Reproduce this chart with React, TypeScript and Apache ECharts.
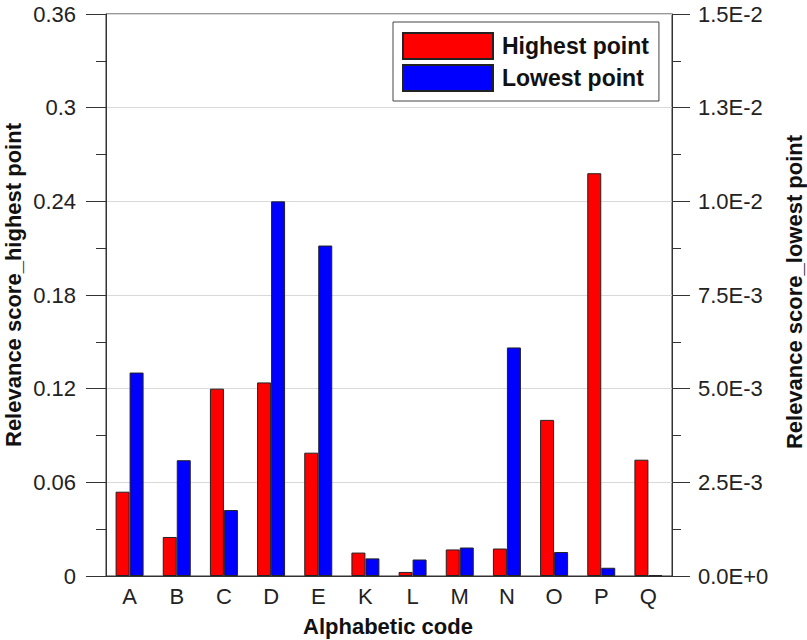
import React, { useEffect, useRef } from "react";
import * as echarts from "echarts";

const categories = ["A", "B", "C", "D", "E", "K", "L", "M", "N", "O", "P", "Q"];
const highestPoint = [0.054, 0.025, 0.12, 0.124, 0.079, 0.015, 0.0026, 0.017, 0.0176, 0.1, 0.258, 0.0745];
const lowestPoint = [0.00543, 0.00309, 0.00176, 0.01, 0.00882, 0.00047, 0.00044, 0.00076, 0.0061, 0.00064, 0.00022, 0.00002];
const rightTickLabels = ["0.0E+0", "2.5E-3", "5.0E-3", "7.5E-3", "1.0E-2", "1.3E-2", "1.5E-2"];

const FONT = "'Liberation Sans', Arial, sans-serif";
const AXIS_COLOR = "#333";

export default function App() {
  const ref = useRef<HTMLDivElement>(null);
  useEffect(() => {
    if (!ref.current) return;
    const chart = echarts.init(ref.current, undefined, { renderer: "svg" });
    const axisCommon = {
      axisLine: { show: true, lineStyle: { color: AXIS_COLOR, width: 1 } },
      axisTick: { show: true, length: 20, lineStyle: { color: AXIS_COLOR } },
      minorTick: { show: true, splitNumber: 2, length: 10, lineStyle: { color: AXIS_COLOR } },
    };
    chart.setOption({
      animation: false,
      backgroundColor: "#fff",
      textStyle: { fontFamily: FONT },
      grid: {
        left: 106,
        right: 135,
        top: 14,
        bottom: 64,
        show: true,
        borderColor: AXIS_COLOR,
        borderWidth: 1,
        backgroundColor: "transparent",
      },
      legend: {
        orient: "vertical",
        left: 393,
        top: 22,
        padding: [10, 10, 9, 9],
        itemWidth: 90,
        itemHeight: 26,
        itemGap: 4,
        icon: "rect",
        borderColor: "#444",
        borderWidth: 1,
        backgroundColor: "#fff",
        textStyle: { fontSize: 23, fontWeight: "bold", color: "#111", fontFamily: FONT, padding: [0, 0, 0, 4] },
        data: ["Highest point", "Lowest point"],
      },
      xAxis: {
        type: "category",
        data: categories,
        axisLine: { show: true, lineStyle: { color: AXIS_COLOR } },
        axisTick: { show: false },
        axisLabel: { fontSize: 22, color: "#222", margin: 9, fontFamily: FONT },
      },
      yAxis: [
        {
          type: "value",
          min: 0,
          max: 0.36,
          interval: 0.06,
          position: "left",
          ...axisCommon,
          axisLabel: { fontSize: 22, color: "#222", margin: 30, fontFamily: FONT },
          splitLine: { show: true, lineStyle: { color: "#d9d9d9", width: 1 } },
        },
        {
          type: "value",
          min: 0,
          max: 0.015,
          interval: 0.0025,
          position: "right",
          ...axisCommon,
          axisTick: { show: true, length: 18, lineStyle: { color: AXIS_COLOR } },
          minorTick: { show: true, splitNumber: 2, length: 9, lineStyle: { color: AXIS_COLOR } },
          axisLabel: {
            fontSize: 22,
            color: "#222",
            margin: 26,
            fontFamily: FONT,
            formatter: (v: number) => rightTickLabels[Math.round(v / 0.0025)] ?? "",
          },
          splitLine: { show: false },
        },
      ],
      series: [
        {
          name: "Highest point",
          type: "bar",
          yAxisIndex: 0,
          data: highestPoint,
          barWidth: 14,
          barGap: "0%",
          itemStyle: { color: "#ff0000", borderColor: "#222", borderWidth: 1 },
        },
        {
          name: "Lowest point",
          type: "bar",
          yAxisIndex: 1,
          data: lowestPoint,
          barWidth: 14,
          barGap: "0%",
          itemStyle: { color: "#0000ff", borderColor: "#222", borderWidth: 1 },
        },
      ],
      graphic: [
        {
          type: "text",
          x: 13,
          y: 285,
          rotation: Math.PI / 2,
          style: {
            text: "Relevance score_highest point",
            font: `bold 22px ${FONT}`,
            fill: "#111",
            align: "center",
            verticalAlign: "middle",
            textAlign: "center",
            textVerticalAlign: "middle",
          },
        },
        {
          type: "text",
          x: 794,
          y: 292,
          rotation: Math.PI / 2,
          style: {
            text: "Relevance score_lowest point",
            font: `bold 22px ${FONT}`,
            fill: "#111",
            align: "center",
            verticalAlign: "middle",
            textAlign: "center",
            textVerticalAlign: "middle",
          },
        },
        {
          type: "text",
          x: 388,
          y: 626,
          style: {
            text: "Alphabetic code",
            font: `bold 22px ${FONT}`,
            fill: "#111",
            align: "center",
            verticalAlign: "middle",
            textAlign: "center",
            textVerticalAlign: "middle",
          },
        },
      ],
    });
    return () => chart.dispose();
  }, []);
  return (
    <div
      ref={ref}
      style={{ position: "fixed", left: 0, top: 0, width: 807, height: 640, background: "#fff" }}
    />
  );
}
